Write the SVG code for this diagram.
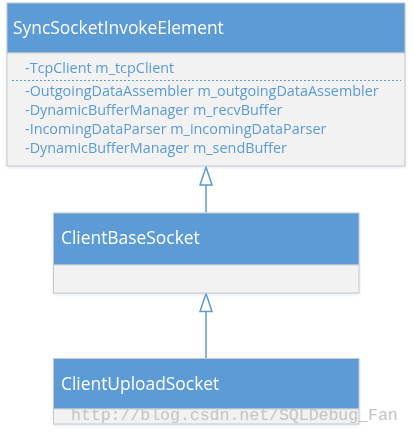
<svg xmlns="http://www.w3.org/2000/svg" width="413" height="434" viewBox="0 0 413 434">
<style>
.hdr{fill:#5B9BD5;stroke:#c9c9c9;stroke-width:1}
.bdy{fill:#F2F2F2;stroke:#c9c9c9;stroke-width:1}
.title{font-family:"Open Sans","Noto Sans",sans-serif;font-size:17.4px;fill:#ffffff}
.attr{font-family:"Open Sans","Noto Sans",sans-serif;font-size:14.4px;fill:#5B9BD5}
.conn{stroke:#5B9BD5;stroke-width:1.5;fill:none}
.wm{font-family:"Liberation Mono",monospace;font-size:16.5px;fill:#c4c4c4}
</style>
<defs>
<filter id="sh" x="-5%" y="-5%" width="110%" height="115%">
<feDropShadow dx="0" dy="1" stdDeviation="1.5" flood-color="#9ab7d8" flood-opacity="0.35"/>
</filter>
</defs>
<g id="connectors">
<line class="conn" x1="206" y1="212.5" x2="206" y2="185" />
<path d="M206,167 L212,185 L200,185 Z" fill="#ffffff" stroke="#5B9BD5" stroke-width="1.5"/>
<line class="conn" x1="206" y1="358" x2="206" y2="311.5" />
<path d="M206,293.5 L212,311.5 L200,311.5 Z" fill="#ffffff" stroke="#5B9BD5" stroke-width="1.5"/>
</g>
<g id="SyncSocketInvokeElement" filter="url(#sh)">
<rect class="hdr" x="7" y="3" width="398" height="50"/>
<rect class="bdy" x="7" y="53" width="398" height="113"/>
<text class="title" x="13" y="34">SyncSocketInvokeElement</text>
<text class="attr" x="25" y="73">-TcpClient m_tcpClient</text>
<line x1="12" y1="80.5" x2="401" y2="80.5" stroke="#5B9BD5" stroke-width="1.2" stroke-dasharray="2,2"/>
<text class="attr" x="25" y="96">-OutgoingDataAssembler m_outgoingDataAssembler</text>
<text class="attr" x="25" y="115">-DynamicBufferManager m_recvBuffer</text>
<text class="attr" x="25" y="134">-IncomingDataParser m_incomingDataParser</text>
<text class="attr" x="25" y="153">-DynamicBufferManager m_sendBuffer</text>
</g>
<g id="ClientBaseSocket" filter="url(#sh)">
<rect class="hdr" x="53.5" y="213" width="305.5" height="52"/>
<rect class="bdy" x="53.5" y="265" width="305.5" height="28"/>
<text class="title" x="61" y="244">ClientBaseSocket</text>
</g>
<g id="ClientUploadSocket" filter="url(#sh)">
<rect class="hdr" x="53.5" y="358.5" width="305.5" height="50.5"/>
<rect class="bdy" x="53.5" y="409" width="305.5" height="15"/>
<text class="title" x="61" y="389.5">ClientUploadSocket</text>
</g>
<text class="wm" x="71" y="420">http://blog.csdn.net/SQLDebug_Fan</text>
</svg>
